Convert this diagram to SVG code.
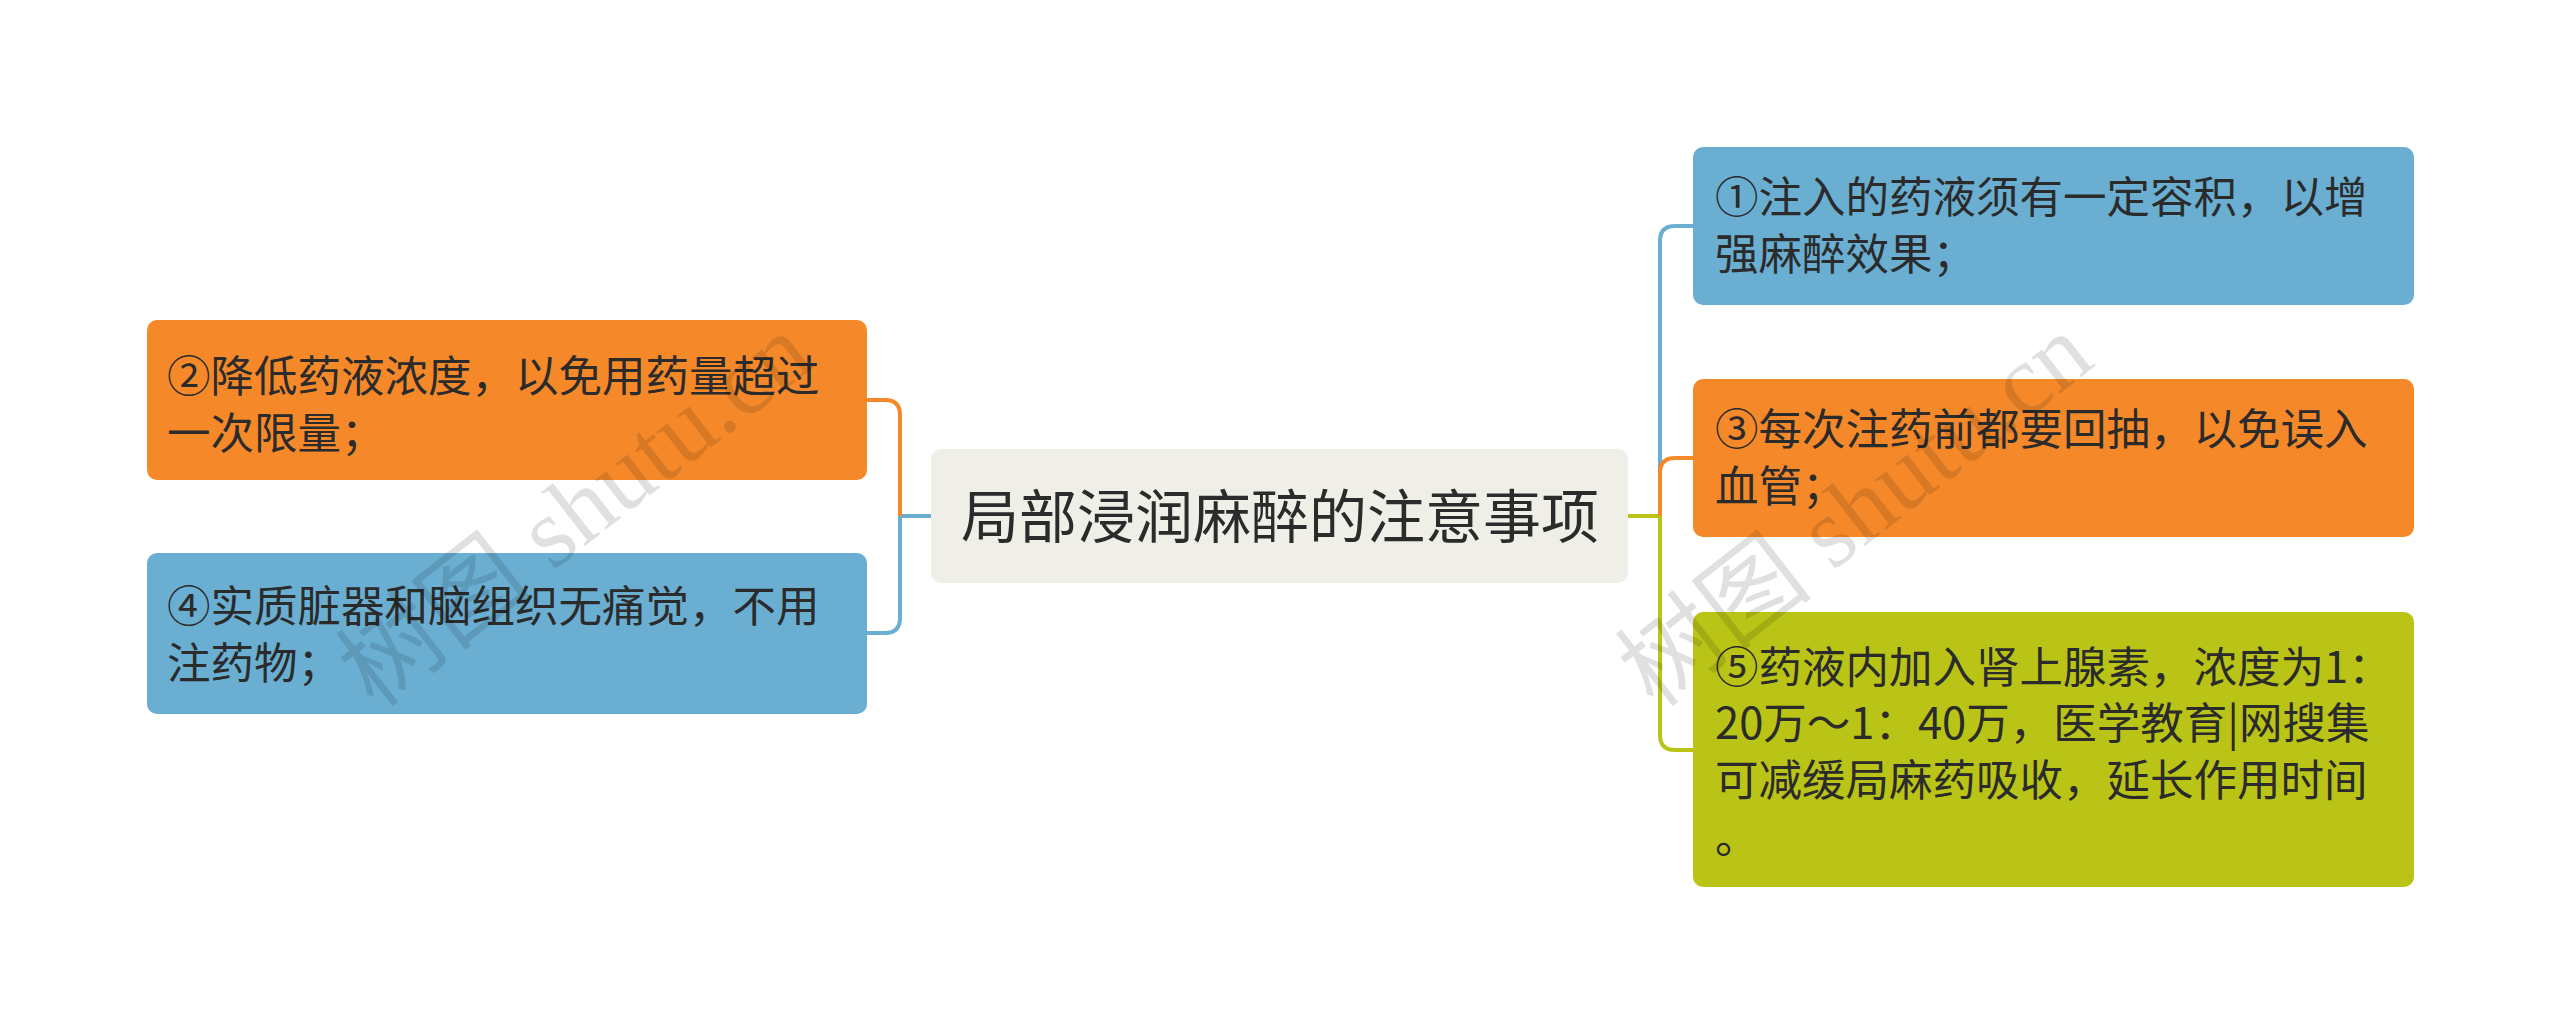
<svg xmlns="http://www.w3.org/2000/svg" width="2560" height="1033" viewBox="0 0 2560 1033">
<style>
.t{font-family:"Noto Sans CJK SC","Noto Sans",sans-serif;font-size:43.5px;fill:#2b2b2b}
.c{fill:none;stroke-width:4}
.wm{font-family:"Liberation Serif","Noto Sans CJK SC",serif;font-size:100px;fill:#000;fill-opacity:0.12}
</style>
<rect width="2560" height="1033" fill="#fff"/>
<g id="connectors">
<path class="c" stroke="#6AAFD2" d="M931 516 H900"/>
<path class="c" stroke="#F5892A" d="M900 516 V415 Q900 400 885 400 H867"/>
<path class="c" stroke="#6AAFD2" d="M900 516 V618 Q900 633 885 633 H867"/>
<path class="c" stroke="#BAC416" d="M1628 516 H1660"/>
<path class="c" stroke="#6AAFD2" d="M1660 516 V241 Q1660 226 1675 226 H1693"/>
<path class="c" stroke="#F5892A" d="M1660 516 V473 Q1660 458 1675 458 H1693"/>
<path class="c" stroke="#BAC416" d="M1660 516 V735 Q1660 750 1675 750 H1693"/>
</g>
<g id="root"><rect x="931" y="449" width="697" height="134" rx="10" fill="#EFEFE7"/>
<text x="1280" y="538" text-anchor="middle" class="t" style="font-size:58px">局部浸润麻醉的注意事项</text></g>
<g id="n2"><rect x="147" y="320" width="720" height="160" rx="10" fill="#F5892A"/>
<text class="t" x="167" y="392">②降低药液浓度，以免用药量超过</text><text class="t" x="167" y="449">一次限量；</text></g>
<g id="n4"><rect x="147" y="553" width="720" height="161" rx="10" fill="#6AAFD2"/>
<text class="t" x="167" y="622">④实质脏器和脑组织无痛觉，不用</text><text class="t" x="167" y="679">注药物；</text></g>
<g id="n1"><rect x="1693" y="147" width="721" height="158" rx="10" fill="#6AAFD2"/>
<text class="t" x="1715" y="213">①注入的药液须有一定容积，以增</text><text class="t" x="1715" y="270">强麻醉效果；</text></g>
<g id="n3"><rect x="1693" y="379" width="721" height="158" rx="10" fill="#F5892A"/>
<text class="t" x="1715" y="445">③每次注药前都要回抽，以免误入</text><text class="t" x="1715" y="502">血管；</text></g>
<g id="n5"><rect x="1693" y="612" width="721" height="275" rx="10" fill="#BAC416"/>
<text class="t" x="1715" y="683">⑤药液内加入肾上腺素，浓度为1：</text><text class="t" x="1715" y="739">20万～1：40万，医学教育|网搜集</text><text class="t" x="1715" y="796">可减缓局麻药吸收，延长作用时间</text><text class="t" x="1715" y="853">。</text></g>
<g id="watermark">
<text class="wm" transform="translate(375 710) rotate(-38)">树图 shutu.cn</text>
<text class="wm" transform="translate(1655 710) rotate(-38)">树图 shutu.cn</text>
</g>
</svg>
